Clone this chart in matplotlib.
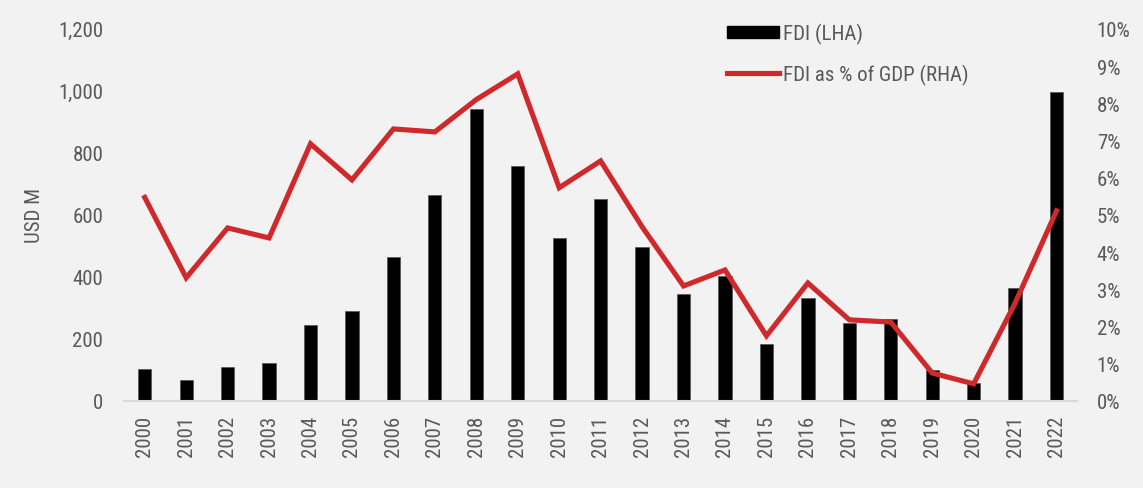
import matplotlib
matplotlib.use("Agg")
import matplotlib.pyplot as plt
from matplotlib import font_manager
from matplotlib.ticker import FuncFormatter
from matplotlib.lines import Line2D
from matplotlib.patches import Patch

years = [str(y) for y in range(2000, 2023)]
fdi_usd_m = [103, 68, 110, 122, 245, 290, 465, 665, 942, 758, 526, 652, 497,
             345, 403, 184, 332, 252, 265, 100, 58, 365, 997]
fdi_pct_gdp = [5.47, 3.31, 4.65, 4.38, 6.91, 5.94, 7.31, 7.23, 8.10, 8.79, 5.73,
               6.45, 4.68, 3.09, 3.52, 1.75, 3.17, 2.18, 2.12, 0.75, 0.46, 2.63, 5.11]
left_ticks = [0, 200, 400, 600, 800, 1000, 1200]
right_ticks = list(range(0, 11))

avail = {f.name for f in font_manager.fontManager.ttflist}
fam = "Roboto Condensed" if "Roboto Condensed" in avail else "Roboto"
plt.rcParams["font.family"] = fam

bg = "#f2f2f2"
txt = "#595959"
red = "#d0292b"
fs = 15

fig = plt.figure(figsize=(11.43, 4.89), dpi=100, facecolor=bg)
ax = fig.add_axes([0.1085, 0.178, 0.834, 0.761])
ax.set_facecolor(bg)
x = list(range(len(years)))
ax.bar(x, fdi_usd_m, width=0.32, color="black", edgecolor="#555555", linewidth=0.5, zorder=2)
ax.set_xlim(-0.5, len(years) - 0.5)
ax.set_ylim(0, 1200)
ax.set_yticks(left_ticks)
ax.yaxis.set_major_formatter(FuncFormatter(lambda v, p: f"{int(v):,}"))
ax.set_xticks(x)
ax.set_xticklabels(years, rotation=90)
for s in ["top", "right", "left"]:
    ax.spines[s].set_visible(False)
ax.spines["bottom"].set_color("#d9d9d9")
ax.spines["bottom"].set_linewidth(1.5)
ax.tick_params(axis="both", length=0, labelsize=fs, colors=txt)
ax.tick_params(axis="y", pad=15)
ax.tick_params(axis="x", pad=10)
ax.set_ylabel("USD M", fontsize=fs, color=txt)
ax.yaxis.set_label_coords(-0.084, 0.5)

ax2 = ax.twinx()
ax2.plot(x, fdi_pct_gdp, color=red, linewidth=3.7, solid_joinstyle="miter", zorder=3)
ax2.set_ylim(0, 10)
ax2.set_yticks(right_ticks)
ax2.yaxis.set_major_formatter(FuncFormatter(lambda v, p: f"{int(v)}%"))
for s in ["top", "right", "left", "bottom"]:
    ax2.spines[s].set_visible(False)
ax2.tick_params(axis="y", length=0, labelsize=fs, colors=txt, pad=14)

handles = [Patch(facecolor="black", edgecolor="black"),
           Line2D([0], [0], color=red, linewidth=3.7)]
leg = fig.legend(handles, ["FDI (LHA)", "FDI as % of GDP (RHA)"],
                 loc="upper left", bbox_to_anchor=(0.62, 0.99), frameon=False,
                 fontsize=fs, labelcolor=txt, handlelength=2.5, handleheight=0.5,
                 handletextpad=0.15, labelspacing=0.95)

fig.savefig("out.png", dpi=100, facecolor=bg)
